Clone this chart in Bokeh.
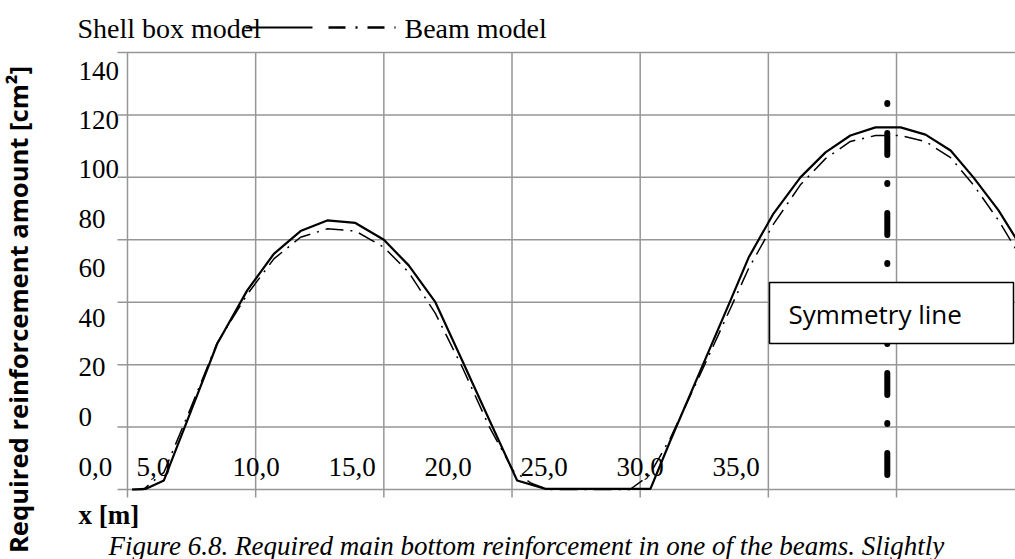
import numpy as np
from bokeh.plotting import figure
from bokeh.models import Range1d, BoxAnnotation, Label
from bokeh.core.properties import value
from bokeh.embed import file_html
from bokeh.resources import INLINE

# ---------------- data ----------------
series_names = ["Shell box model", "Beam model"]

shell_x = [0.18, 0.70, 1.42, 2.46, 3.50, 4.67, 5.71, 6.75, 7.79, 8.89, 10.00, 10.97,
           12.01, 13.07, 14.12, 15.20, 16.31, 20.40, 21.18, 22.35, 23.52, 24.23,
           25.20, 26.25, 27.23, 28.20, 29.18, 30.16, 31.13, 32.11, 33.00, 33.98, 34.95]
shell_y = [0.0, 0.2, 2.9, 24.8, 46.7, 63.8, 75.5, 82.8, 86.2, 85.4, 80.0, 71.8,
           60.0, 41.1, 22.2, 2.9, 0.2, 0.2, 15.7, 38.1, 60.5, 74.3,
           88.4, 100.0, 108.0, 113.4, 116.0, 116.0, 113.7, 108.6, 100.0, 89.4, 76.6]

beam_x = [0.18, 0.62, 1.42, 2.46, 3.50, 4.67, 5.71, 6.75, 7.79, 8.89, 10.00, 10.97,
          12.01, 13.07, 14.12, 15.05, 15.75, 16.40, 19.60, 20.35, 21.18, 22.35, 23.52,
          24.23, 25.20, 26.25, 27.23, 28.20, 29.18, 30.16, 31.13, 32.11, 33.00, 33.98, 34.95]
beam_y = [0.0, 0.0, 5.5, 26.0, 47.0, 62.5, 73.9, 80.8, 83.5, 82.8, 77.6, 69.6,
          56.4, 39.0, 20.0, 6.0, 2.0, 0.0, 0.0, 4.5, 16.5, 37.0, 58.0,
          70.8, 85.0, 97.6, 106.0, 111.5, 113.4, 113.4, 111.5, 106.3, 97.6, 86.2, 73.0]

x_ticks = [0, 5, 10, 15, 20, 25, 30, 35]
x_tick_labels = ["0,0", "5,0", "10,0", "15,0", "20,0", "25,0", "30,0", "35,0"]
y_ticks = [0, 20, 40, 60, 80, 100, 120, 140]
y_tick_labels = ["0", "20", "40", "60", "80", "100", "120", "140"]

symmetry_x = [29.64, 29.64]
symmetry_y = [123.8, 4.65]
symmetry_text = "Symmetry line"

y_title = "Required reinforcement amount [cm\u00b2]"
x_title = "x [m]"
caption = "Figure 6.8. Required main bottom reinforcement in one of the beams. Slightly"

# ---------------- layout (pixel geometry of the page) ----------------
W, H = 1015, 559
ORIGIN_PX, ORIGIN_PY = 127, 489          # where x=0, y=0 sit on the page
PX_PER_X = 128.17 / 5                    # horizontal px per metre
PX_PER_Y = 437 / 140                     # vertical px per cm2


def px_x(px):
    return (px - ORIGIN_PX) / PX_PER_X


def px_y(py):
    return (ORIGIN_PY - py) / PX_PER_Y


SERIF = "Liberation Serif"
SANS = "Open Sans"
GRID = "#969696"

p = figure(width=W, height=H,
           x_range=Range1d(px_x(0), px_x(W)), y_range=Range1d(px_y(H), px_y(0)),
           toolbar_location=None, output_backend="svg", min_border=0,
           x_axis_location=None, y_axis_location=None, outline_line_color=None)
p.xgrid.visible = False
p.ygrid.visible = False

# grid lines (with their outward tick stubs)
x_end = px_x(W)
vx = [t for t in x_ticks if t <= x_end]
p.segment(x0=vx, y0=[-8 / PX_PER_Y] * len(vx), x1=vx, y1=[max(y_ticks)] * len(vx),
          line_color=GRID, line_width=1.5)
p.segment(x0=[-10 / PX_PER_X] * len(y_ticks), y0=y_ticks, x1=[x_end] * len(y_ticks),
          y1=y_ticks, line_color=GRID, line_width=1.5)

# series
p.line(shell_x, shell_y, line_color="black", line_width=2.2)
p.line(beam_x, beam_y, line_color="black", line_width=1.5, line_dash="18 7 2 7")

# symmetry line + its box
p.line(symmetry_x, symmetry_y, line_color="black", line_width=6, line_cap="round",
       line_dash="1 29 22 28")
p.add_layout(BoxAnnotation(left=px_x(769), right=px_x(1013), top=px_y(282), bottom=px_y(343),
                           fill_color="white", fill_alpha=1.0, line_color="black",
                           line_alpha=1.0, line_width=1.5))
p.add_layout(Label(x=px_x(788), y=px_y(313), text=symmetry_text, text_font=SANS,
                   text_font_size="26px", text_baseline="middle", text_color="black"))

# tick labels (drawn the way the source shows them)
ylab_py = [416 - v * 346 / 140 for v in y_ticks]
p.text(x=[px_x(78)] * len(y_ticks), y=[px_y(v) for v in ylab_py], text=y_tick_labels,
       text_align="left", text_baseline="middle", text_font=value(SERIF),
       text_font_size="27px", text_color="black")
xlab_px = [max(40 + 19.2 * v, 78) for v in x_ticks]
p.text(x=[px_x(v) for v in xlab_px], y=[px_y(466)] * len(x_ticks), text=x_tick_labels,
       text_align="left", text_baseline="middle", text_font=value(SERIF),
       text_font_size="27px", text_color="black")

# legend strip
p.text(x=[px_x(77)], y=[px_y(28)], text=[series_names[0]], text_baseline="alphabetic",
       text_font=value(SERIF), text_font_size="28px", text_color="black")
p.line([px_x(245), px_x(312)], [px_y(27)] * 2, line_color="black", line_width=2)
p.line([px_x(328), px_x(395)], [px_y(27)] * 2, line_color="black", line_width=2.5,
       line_dash="17 10 2 10")
p.text(x=[px_x(404)], y=[px_y(28)], text=[series_names[1]], text_baseline="alphabetic",
       text_font=value(SERIF), text_font_size="28px", text_color="black")

# titles and caption
p.text(x=[px_x(78)], y=[px_y(514)], text=[x_title], text_baseline="middle",
       text_font=value(SERIF), text_font_style="bold", text_font_size="27px",
       text_color="black")
p.text(x=[px_x(18)], y=[px_y(309)], text=[y_title], angle=np.pi / 2, text_align="center",
       text_baseline="middle", text_font=value(SANS), text_font_style="bold",
       text_font_size="25.6px", text_color="black")
p.text(x=[px_x(108)], y=[px_y(545)], text=[caption], text_baseline="alphabetic",
       text_font=value(SERIF), text_font_style="italic", text_font_size="27px",
       text_color="black")

open("out.html", "w").write(file_html(p, INLINE))
